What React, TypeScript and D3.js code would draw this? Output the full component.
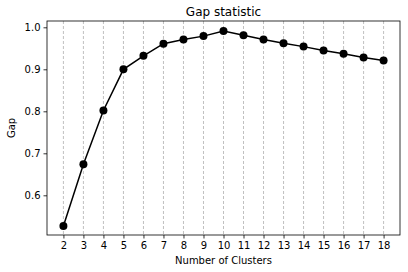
import React, { useEffect, useRef } from 'react';
import * as d3 from 'd3';

// Gap statistic per number of clusters
const clusters = [2, 3, 4, 5, 6, 7, 8, 9, 10, 11, 12, 13, 14, 15, 16, 17, 18];
const gapValues = [0.527, 0.674, 0.802, 0.9, 0.932, 0.961, 0.971, 0.979, 0.991, 0.981, 0.971, 0.962, 0.954, 0.945, 0.937, 0.928, 0.921];
const yTicks = [0.6, 0.7, 0.8, 0.9, 1.0];

const W = 408;
const H = 272;

const App = () => {
    const svgRef = useRef<SVGSVGElement>(null);

    useEffect(() => {
        const svg = d3.select(svgRef.current);
        svg.selectAll('*').remove();

        const margin = { top: 21, right: 8, bottom: 37, left: 47 };
        const innerW = W - margin.left - margin.right;
        const innerH = H - margin.top - margin.bottom;
        const font = 'DejaVu Sans, sans-serif';

        const x = d3.scaleLinear().domain([1.18, 18.82]).range([0, innerW]);
        const y = d3.scaleLinear().domain([0.5055, 1.015]).range([innerH, 0]);

        const g = svg.append('g').attr('transform', `translate(${margin.left},${margin.top})`);

        // vertical dashed grid
        g.selectAll('line.grid')
            .data(clusters)
            .enter()
            .append('line')
            .attr('x1', d => x(d))
            .attr('x2', d => x(d))
            .attr('y1', 0)
            .attr('y2', innerH)
            .attr('stroke', '#b0b0b0')
            .attr('stroke-width', 0.8)
            .attr('stroke-dasharray', '3,2');

        // axes
        const xAxis = g.append('g')
            .attr('transform', `translate(0,${innerH})`)
            .call(d3.axisBottom(x).tickValues(clusters).tickFormat(d3.format('d')).tickSizeOuter(0).tickSize(3.5).tickPadding(3));
        const yAxis = g.append('g')
            .call(d3.axisLeft(y).tickValues(yTicks).tickFormat(d3.format('.1f')).tickSizeOuter(0).tickSize(3.5).tickPadding(3));
        [xAxis, yAxis].forEach(a => {
            a.select('.domain').remove();
            a.selectAll('text').attr('font-family', font).attr('font-size', 10).attr('fill', '#000');
            a.selectAll('line').attr('stroke', '#000').attr('stroke-width', 0.8);
        });

        // frame
        g.append('rect')
            .attr('width', innerW)
            .attr('height', innerH)
            .attr('fill', 'none')
            .attr('stroke', '#000')
            .attr('stroke-width', 0.8);

        // line + markers
        const line = d3.line<number>()
            .x((_, i) => x(clusters[i]))
            .y(d => y(d));

        g.append('path')
            .datum(gapValues)
            .attr('d', line)
            .attr('fill', 'none')
            .attr('stroke', '#000')
            .attr('stroke-width', 1.5);

        g.selectAll('circle')
            .data(gapValues)
            .enter()
            .append('circle')
            .attr('cx', (_, i) => x(clusters[i]))
            .attr('cy', d => y(d))
            .attr('r', 4)
            .attr('fill', '#000');

        // labels
        svg.append('text')
            .attr('x', margin.left + innerW / 2)
            .attr('y', 16)
            .attr('text-anchor', 'middle')
            .attr('font-family', font)
            .attr('font-size', 12)
            .text('Gap statistic');

        svg.append('text')
            .attr('x', margin.left + innerW / 2)
            .attr('y', 264)
            .attr('text-anchor', 'middle')
            .attr('font-family', font)
            .attr('font-size', 10)
            .text('Number of Clusters');

        svg.append('text')
            .attr('transform', `translate(15,${margin.top + innerH / 2}) rotate(-90)`)
            .attr('text-anchor', 'middle')
            .attr('font-family', font)
            .attr('font-size', 10)
            .text('Gap');
    }, []);

    return (
        <svg ref={svgRef} width={W} height={H} style={{ position: 'absolute', left: 0, top: 0, background: '#fff' }}></svg>
    );
};

export default App;
